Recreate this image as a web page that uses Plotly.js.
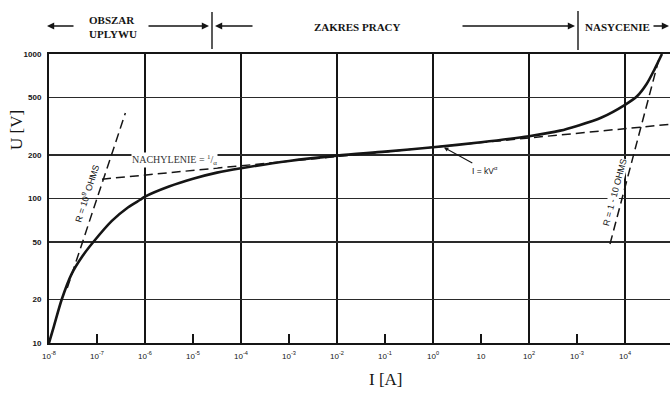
<!DOCTYPE html>
<html>
<head>
<meta charset="utf-8">
<script src="https://cdn.plot.ly/plotly-3.0.1.min.js"></script>
<style>
  html, body { margin: 0; padding: 0; background: #fff; }
  #chart { width: 670px; height: 394px; }
</style>
</head>
<body>
<div id="chart"></div>
<script>
// Varistor characteristic U(I) on log-log axes

// Main characteristic: current [A] and voltage [V]
const curveCurrent = [1e-8, 1.26e-8, 1.84e-8, 2.95e-8, 5.0e-8, 8.38e-8, 2.04e-7, 4.47e-7, 7.94e-7,
  1e-6, 3.16e-6, 1e-5, 3.16e-5, 1e-4, 1e-3, 1e-2, 1e-1, 1, 10, 100, 447, 1000, 3162,
  1e4, 1.78e4, 2.82e4, 4.17e4, 5.89e4];
const curveVoltage = [10, 13, 20, 30, 40, 50, 70, 87, 98,
  103, 121, 137, 151, 162, 182, 198, 211, 226, 245, 270, 295, 318, 362,
  445, 510, 620, 790, 1000];

// Leakage region asymptote: U = R * I with R = 10^9 ohm
const leakResistance = 1e9;
const leakVoltage = [24, 390];

// Slope line (1/alpha) through the working region
const slopeCurrent = [1.27e-7, 8.6e4];
const slopeVoltage = [136, 326];

// Saturation asymptote (R = 1-10 ohm)
const satCurrent = [4.87e3, 5.36e4];
const satVoltage = [48.4, 984];

// Axis ticks
const xTickVals = [1e-8, 1e-7, 1e-6, 1e-5, 1e-4, 1e-3, 1e-2, 1e-1, 1, 10, 100, 1000, 1e4];
const xTickText = ['10<sup>-8</sup>', '10<sup>-7</sup>', '10<sup>-6</sup>', '10<sup>-5</sup>',
  '10<sup>-4</sup>', '10<sup>-3</sup>', '10<sup>-2</sup>', '10<sup>-1</sup>', '10<sup>0</sup>',
  '10', '10<sup>2</sup>', '10<sup>-3</sup>', '10<sup>4</sup>'];
const xGridVals = [1e-6, 1e-4, 1e-2, 1, 100, 1e4];
const yTickVals = [10, 20, 50, 100, 200, 500, 1000];
const yTickText = ['10', '20', '50', '100', '200', '500', '1000'];

const INK = '#151515';
const dash = '9px,5px';

const traces = [
  {
    x: leakVoltage.map(u => u / leakResistance), y: leakVoltage,
    mode: 'lines', line: { color: INK, width: 1.5, dash: dash },
    hoverinfo: 'skip', showlegend: false
  },
  {
    x: slopeCurrent, y: slopeVoltage,
    mode: 'lines', line: { color: INK, width: 1.5, dash: dash },
    hoverinfo: 'skip', showlegend: false
  },
  {
    x: satCurrent, y: satVoltage,
    mode: 'lines', line: { color: INK, width: 1.5, dash: dash },
    hoverinfo: 'skip', showlegend: false
  },
  {
    x: curveCurrent, y: curveVoltage,
    mode: 'lines', line: { color: INK, width: 2.6, shape: 'spline', smoothing: 0.8 },
    hoverinfo: 'skip', showlegend: false
  }
];

// pixel helpers for the header band above the plot
const L = 49, T = 54, W = 621, H = 289;
const px = X => (X - L) / W;
const py = Y => (T + H - Y) / H;

const serifBold = { family: 'Liberation Serif, DejaVu Serif, serif', size: 11, color: INK, weight: 'bold' };
const arrowY = py(26);

function headerArrow(headX, tailX) {
  return {
    xref: 'paper', yref: 'paper', x: px(headX), y: arrowY,
    axref: 'pixel', ayref: 'pixel', ax: tailX - headX, ay: 0,
    text: '', showarrow: true, arrowhead: 2, arrowsize: 0.9, arrowwidth: 1.6, arrowcolor: INK
  };
}

function paperText(X, Y, text, font, extra) {
  return Object.assign({
    xref: 'paper', yref: 'paper', x: px(X), y: py(Y), text: text,
    xanchor: 'center', yanchor: 'middle', showarrow: false, font: font
  }, extra || {});
}

const titleFont = { family: 'Liberation Serif, serif', size: 17, color: INK };

const annotations = [
  paperText(113, 27, 'OBSZAR<br>UPLYWU', serifBold, { align: 'left' }),
  paperText(357, 27, 'ZAKRES PRACY', serifBold),
  paperText(617, 27, 'NASYCENIE', serifBold),
  headerArrow(47, 75),
  headerArrow(209, 147),
  headerArrow(215, 254),
  headerArrow(575, 461),
  headerArrow(670, 652),
  // axis titles
  paperText(16, 130, 'U [V]', titleFont, { textangle: -90 }),
  paperText(386, 379, 'I [A]', titleFont),
  // curve labels (log10 coordinates on log axes)
  { x: -5.38, y: 2.268, text: 'NACHYLENIE = <sup>1</sup>/<sub>α</sub>', showarrow: false,
    xanchor: 'center', yanchor: 'middle', bgcolor: '#fff', borderpad: 0,
    font: { family: 'Liberation Serif, serif', size: 10, color: '#333' } },
  { x: -7.22, y: 2.04, text: 'R = 10<sup>9</sup> OHMS', textangle: -72, showarrow: false,
    xanchor: 'center', yanchor: 'middle',
    font: { family: 'Liberation Sans, Arial, sans-serif', size: 9, color: INK } },
  { x: 3.79, y: 2.045, text: 'R = 1 - 10 OHMS', textangle: -75, showarrow: false,
    xanchor: 'center', yanchor: 'middle', bgcolor: '#fff', borderpad: 0,
    font: { family: 'Liberation Sans, Arial, sans-serif', size: 9, color: INK } },
  { x: 0.21, y: 2.356, text: 'I = kV<sup>α</sup>', showarrow: true,
    axref: 'pixel', ayref: 'pixel', ax: 42, ay: 23,
    arrowhead: 2, arrowsize: 0.8, arrowwidth: 1.1, arrowcolor: INK, standoff: 1,
    font: { family: 'Liberation Sans, Arial, sans-serif', size: 8.5, color: INK } }
];

const shapes = [
  { type: 'line', xref: 'paper', yref: 'paper', x0: px(212), x1: px(212), y0: py(49), y1: py(12),
    line: { color: INK, width: 1.4 } },
  { type: 'line', xref: 'paper', yref: 'paper', x0: px(578), x1: px(578), y0: py(50), y1: py(11),
    line: { color: INK, width: 1.4 } }
];

const layout = {
  width: 670, height: 394,
  margin: { l: L, r: 0, t: T, b: 394 - T - H, pad: 0 },
  paper_bgcolor: '#fff', plot_bgcolor: '#fff',
  showlegend: false,
  xaxis: {
    type: 'log', range: [-8, -8 + W / 48], fixedrange: true,
    tickmode: 'array', tickvals: xTickVals, ticktext: xTickText,
    ticks: 'inside', ticklen: 9, tickwidth: 1.5, tickcolor: INK, ticklabelstandoff: 4,
    tickfont: { family: 'Liberation Sans, Arial, sans-serif', size: 8, color: INK },
    showgrid: false, zeroline: false,
    showline: true, mirror: true, linecolor: INK, linewidth: 2,
    minor: { tickmode: 'array', tickvals: xGridVals, showgrid: true, gridcolor: INK, gridwidth: 1.5, ticks: '' }
  },
  yaxis: {
    type: 'log', range: [1, 3], fixedrange: true,
    tickmode: 'array', tickvals: yTickVals, ticktext: yTickText,
    ticks: '', ticklabelstandoff: 4,
    tickfont: { family: 'Liberation Sans, Arial, sans-serif', size: 8, color: INK, weight: 'bold' },
    showgrid: true, gridcolor: '#2a2a2a', gridwidth: 1.3, zeroline: false,
    showline: true, linecolor: INK, linewidth: 2
  },
  annotations: annotations,
  shapes: shapes
};

Plotly.newPlot('chart', traces, layout, { staticPlot: true, displayModeBar: false });
</script>
</body>
</html>
